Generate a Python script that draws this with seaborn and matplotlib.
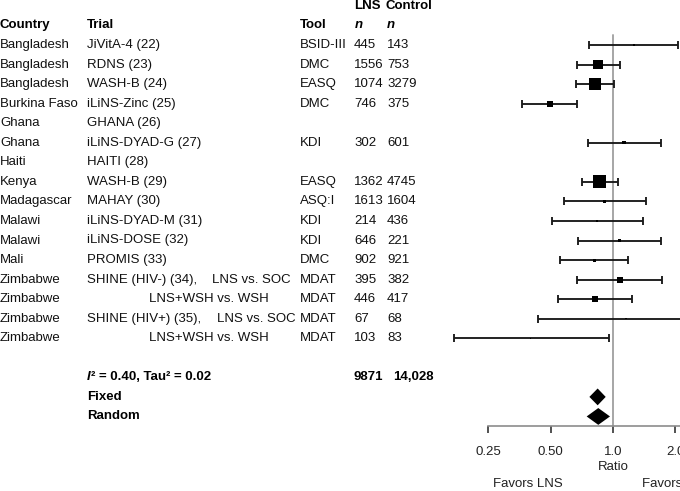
import numpy as np
import pandas as pd
import seaborn as sns
import matplotlib
matplotlib.use("Agg")
from matplotlib import pyplot as plt

sns.set_theme(style="white")
plt.rcParams["font.family"] = ["Liberation Sans", "DejaVu Sans"]

# Step 1:  Study data
countries = ["Bangladesh", "Bangladesh", "Bangladesh", "Burkina Faso", "Ghana", "Ghana",
             "Haiti", "Kenya", "Madagascar", "Malawi", "Malawi", "Mali",
             "Zimbabwe", "Zimbabwe", "Zimbabwe", "Zimbabwe"]
trials = ["JiVitA-4 (22)", "RDNS (23)", "WASH-B (24)", "iLiNS-Zinc (25)", "GHANA (26)",
          "iLiNS-DYAD-G (27)", "HAITI (28)", "WASH-B (29)", "MAHAY (30)", "iLiNS-DYAD-M (31)",
          "iLiNS-DOSE (32)", "PROMIS (33)", "SHINE (HIV-) (34),", "", "SHINE (HIV+) (35),", ""]
comparisons = ["", "", "", "", "", "", "", "", "", "", "", "",
               "LNS vs. SOC", "LNS+WSH vs. WSH", "LNS vs. SOC", "LNS+WSH vs. WSH"]
tools = ["BSID-III", "DMC", "EASQ", "DMC", "", "KDI", "", "EASQ", "ASQ:I", "KDI",
         "KDI", "DMC", "MDAT", "MDAT", "MDAT", "MDAT"]
n_lns = ["445", "1556", "1074", "746", "", "302", "", "1362", "1613", "214",
         "646", "902", "395", "446", "67", "103"]
n_control = ["143", "753", "3279", "375", "", "601", "", "4745", "1604", "436",
             "221", "921", "382", "417", "68", "83"]

nan = np.nan
ratio = [1.26, 0.846, 0.818, 0.494, nan, 1.13, nan, 0.858, 0.912, 0.84,
         1.077, 0.81, 1.077, 0.818, 1.156, 0.40]
lower = [0.766, 0.67, 0.663, 0.363, nan, 0.755, nan, 0.706, 0.578, 0.506,
         0.675, 0.556, 0.67, 0.54, 0.436, 0.17]
upper = [2.07, 1.077, 1.008, 0.67, nan, 1.70, nan, 1.053, 1.444, 1.40,
         1.71, 1.18, 1.725, 1.24, 3.0, 0.957]
weights = [0.4, 12.8, 20.5, 5.1, nan, 1.6, nan, 24.0, 1.3, 0.6,
           1.7, 1.3, 5.1, 5.1, 0.2, 0.2]

summary_labels = ["Fixed", "Random"]
summary_est = [0.843, 0.849]
summary_low = [0.769, 0.746]
summary_high = [0.922, 0.967]
total_lns = "9871"
total_control = "14,028"
heterogeneity = "\u00b2 = 0.40, Tau\u00b2 = 0.02"

tick_values = [0.25, 0.5, 1.0, 2.0]
tick_labels = ["0.25", "0.50", "1.0", "2.0"]

df = pd.DataFrame({"row": np.arange(len(countries)), "ratio": ratio,
                   "lower": lower, "upper": upper, "weight": weights})
df_pts = df.dropna()

# Step 2:  Layout (pixels of a 680x491 figure, rows every 19.55 px)
W, H = 680, 491
row0, step = 45.0, 19.55
y_top = -row0 / step
y_bot = (H - row0) / step
fs = 9.5

fig = plt.figure(figsize=(W / 100, H / 100), dpi=100)
ax_txt = fig.add_axes([0, 0, 1, 1])
ax_txt.set_xlim(0, W)
ax_txt.set_ylim(y_bot, y_top)
ax_txt.axis("off")

ax = fig.add_axes([440 / W, 0, 240 / W, 1])
ax.patch.set_alpha(0)
ax.set_xscale("log", base=2)
px_per_doubling = 62.3
ax.set_xlim(2 ** ((440 - 613) / px_per_doubling), 2 ** ((680 - 613) / px_per_doubling))
ax.set_ylim(y_bot, y_top)

# Step 3:  Table text
hdr = dict(fontsize=fs, fontweight="bold", va="center", color="black")
ax_txt.text(0, -1, "Country", **hdr)
ax_txt.text(87, -1, "Trial", **hdr)
ax_txt.text(300, -1, "Tool", **hdr)
ax_txt.text(354, -2, "LNS", **hdr)
ax_txt.text(386, -2, "Control", **hdr)
ax_txt.text(355, -1, "n", fontstyle="italic", **hdr)
ax_txt.text(387, -1, "n", fontstyle="italic", **hdr)

comp_x = {12: 212, 13: 149, 14: 217, 15: 149}
body = dict(fontsize=fs, va="center", color="#111111")
for i in range(len(countries)):
    ax_txt.text(0, i, countries[i], **body)
    ax_txt.text(87, i, trials[i], **body)
    if comparisons[i]:
        ax_txt.text(comp_x[i], i, comparisons[i], **body)
    ax_txt.text(300, i, tools[i], **body)
    ax_txt.text(354, i, n_lns[i], **body)
    ax_txt.text(387, i, n_control[i], **body)

srow = len(countries) + 1
ax_txt.text(87, srow, "I", fontstyle="italic", **hdr)
ax_txt.text(91, srow, heterogeneity, **hdr)
ax_txt.text(354, srow, total_lns, **hdr)
ax_txt.text(393, srow, total_control, **hdr)
for k, lab in enumerate(summary_labels):
    ax_txt.text(87, srow + 1 + k, lab, **hdr)

# Step 4:  Forest plot
ax.plot([1, 1], [-0.5, srow + 2.5], color="#a6a6a6", lw=1.4, zorder=1)

ax.errorbar(df_pts["ratio"], df_pts["row"],
            xerr=[df_pts["ratio"] - df_pts["lower"], df_pts["upper"] - df_pts["ratio"]],
            fmt="none", ecolor="#1a1a1a", elinewidth=1.35, capsize=3.2, capthick=1.35, zorder=2)

k_area = 3.64
sns.scatterplot(data=df_pts, x="ratio", y="row", size="weight", marker="s", color="black",
                sizes=(k_area * df_pts["weight"].min(), k_area * df_pts["weight"].max()),
                linewidth=0, legend=False, ax=ax, zorder=3)

for k in range(len(summary_labels)):
    yy = srow + 1 + k
    hh = 0.43
    ax.fill([summary_low[k], summary_est[k], summary_high[k], summary_est[k]],
            [yy, yy - hh, yy, yy + hh], color="black", lw=0, zorder=3)

# axis
for s in ["top", "right", "left"]:
    ax.spines[s].set_visible(False)
ax.spines["bottom"].set_position(("data", srow + 2.5))
ax.spines["bottom"].set_bounds(0.25, 4.0)
ax.spines["bottom"].set_color("#8c8c8c")
ax.spines["bottom"].set_linewidth(1.2)
ax.set_xticks(tick_values)
ax.set_xticklabels(tick_labels)
ax.minorticks_off()
ax.tick_params(axis="x", bottom=True, direction="out", length=5, width=1.2,
               color="#333333", labelsize=fs, labelcolor="#222222", pad=9.5)
ax.set_yticks([])
ax.set_xlabel("")
ax.set_ylabel("")

ax.text(1.0, srow + 4.6, "Ratio", fontsize=fs, ha="center", va="center", color="#222222")
ax_txt.text(528, srow + 5.45, "Favors LNS", fontsize=fs, ha="center", va="center", color="#222222")
ax_txt.text(642, srow + 5.45, "Favors Control", fontsize=fs, ha="left", va="center", color="#222222")

fig.savefig("out.png", dpi=100)
